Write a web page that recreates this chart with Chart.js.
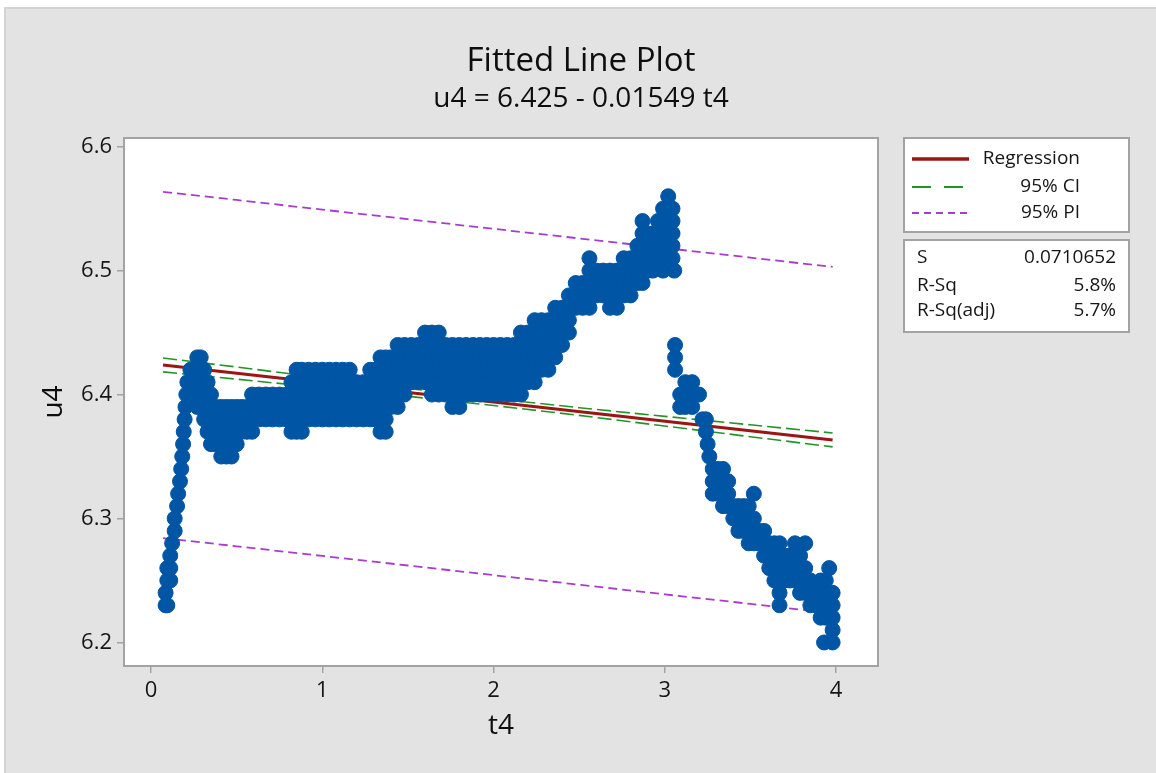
<!DOCTYPE html>
<html>
<head>
<meta charset="utf-8">
<title>Fitted Line Plot</title>
<script src="https://cdn.jsdelivr.net/npm/chart.js@4.4.1/dist/chart.umd.min.js"></script>
<style>
  html, body { margin: 0; padding: 0; background: #ffffff; }
  canvas { display: block; }
</style>
</head>
<body>
<canvas id="plot" width="1156" height="773"></canvas>
<script>
const FONT = '"Open Sans", "Noto Sans", "DejaVu Sans", sans-serif';

// Fitted equation (as printed in the subtitle)
const intercept = 6.425;
const slope = -0.01549;

// Summary statistics box
const statLabels = ['S', 'R-Sq', 'R-Sq(adj)'];
const statValues = ['0.0710652', '5.8%', '5.7%'];

// Legend entries
const legendLabels = ['Regression', '95% CI', '95% PI'];

// Axis ticks
const xTicks = [0, 1, 2, 3, 4];
const yTicks = [6.2, 6.3, 6.4, 6.5, 6.6];

// Confidence / prediction band vertices
const bandT   = [0.07, 0.5, 1.0, 1.5, 2.0, 2.5, 3.0, 3.5, 3.98];
const ciUpper = [6.4295, 6.4222, 6.4135, 6.4050, 6.3968, 6.3894, 6.3824, 6.3756, 6.3690];
const ciLower = [6.4183, 6.4124, 6.4055, 6.3986, 6.3912, 6.3832, 6.3746, 6.3660, 6.3578];
const piUpper = [6.5636, 6.5570, 6.5492, 6.5415, 6.5337, 6.5260, 6.5182, 6.5105, 6.5030];
const piLower = [6.2842, 6.2776, 6.2698, 6.2621, 6.2543, 6.2466, 6.2388, 6.2311, 6.2236];

// Observations: t4 value of each group and the u4 readings recorded at it
const t4 = [
  0.085, 0.095, 0.112, 0.123, 0.138, 0.152, 0.158, 0.169, 0.176, 0.182,
  0.187, 0.191, 0.196, 0.201, 0.206, 0.212, 0.23, 0.25, 0.27, 0.29,
  0.31, 0.33, 0.35, 0.38, 0.41, 0.44, 0.47, 0.50, 0.53, 0.56,
  0.59, 0.63, 0.67, 0.71, 0.75, 0.79, 0.82, 0.85, 0.88, 0.92,
  0.96, 1.00, 1.04, 1.08, 1.12, 1.16, 1.20, 1.24, 1.28, 1.31,
  1.34, 1.37, 1.40, 1.44, 1.48, 1.52, 1.56, 1.60, 1.64, 1.68,
  1.72, 1.76, 1.80, 1.84, 1.88, 1.92, 1.96, 2.00, 2.04, 2.08,
  2.12, 2.16, 2.20, 2.24, 2.28, 2.32, 2.36, 2.40, 2.44, 2.48,
  2.52, 2.56, 2.60, 2.64, 2.68, 2.72, 2.76, 2.80, 2.84, 2.87,
  2.90, 2.93, 2.96, 2.99, 3.02, 3.045, 3.055,
  3.06, 3.09, 3.12, 3.16, 3.20, 3.22, 3.24, 3.25, 3.26, 3.28,
  3.31, 3.34, 3.37, 3.40, 3.43, 3.46, 3.49, 3.52, 3.55, 3.58,
  3.61, 3.64, 3.67, 3.70, 3.73, 3.76, 3.79, 3.82, 3.85, 3.88,
  3.91, 3.93, 3.94, 3.96, 3.98
];
const u4 = [
  [6.23, 6.24], [6.23, 6.25, 6.26], [6.25, 6.26, 6.27], [6.28], [6.29, 6.30],
  [6.31], [6.32], [6.33], [6.34], [6.35],
  [6.36], [6.37], [6.38], [6.39], [6.40],
  [6.41], [6.41, 6.42], [6.40, 6.41, 6.42], [6.39, 6.40, 6.41, 6.42, 6.43], [6.39, 6.40, 6.41, 6.42, 6.43],
  [6.38, 6.39, 6.40, 6.41, 6.42], [6.37, 6.38, 6.39, 6.40, 6.41], [6.36, 6.37, 6.38, 6.39, 6.40], [6.36, 6.37, 6.38, 6.39], [6.35, 6.36, 6.37, 6.38, 6.39],
  [6.35, 6.36, 6.37, 6.38, 6.39], [6.35, 6.36, 6.37, 6.38, 6.39], [6.36, 6.37, 6.38, 6.39], [6.37, 6.38, 6.39], [6.37, 6.38, 6.39],
  [6.37, 6.38, 6.39, 6.40], [6.38, 6.39, 6.40], [6.38, 6.39, 6.40], [6.38, 6.39, 6.40], [6.38, 6.39, 6.40],
  [6.38, 6.39, 6.40], [6.37, 6.38, 6.39, 6.40, 6.41], [6.37, 6.38, 6.39, 6.40, 6.41, 6.42], [6.37, 6.38, 6.39, 6.40, 6.41, 6.42], [6.38, 6.39, 6.40, 6.41, 6.42],
  [6.38, 6.39, 6.40, 6.41, 6.42], [6.38, 6.39, 6.40, 6.41, 6.42], [6.38, 6.39, 6.40, 6.41, 6.42], [6.38, 6.39, 6.40, 6.41, 6.42], [6.38, 6.39, 6.40, 6.41, 6.42],
  [6.38, 6.39, 6.40, 6.41, 6.42], [6.38, 6.39, 6.40, 6.41], [6.38, 6.39, 6.40, 6.41], [6.38, 6.39, 6.40, 6.41, 6.42], [6.38, 6.39, 6.40, 6.41, 6.42],
  [6.37, 6.38, 6.39, 6.40, 6.41, 6.42, 6.43], [6.37, 6.38, 6.39, 6.40, 6.41, 6.42, 6.43], [6.39, 6.40, 6.41, 6.42, 6.43], [6.39, 6.40, 6.41, 6.42, 6.43, 6.44], [6.40, 6.41, 6.42, 6.43, 6.44],
  [6.41, 6.42, 6.43, 6.44], [6.41, 6.42, 6.43, 6.44], [6.41, 6.42, 6.43, 6.44, 6.45], [6.40, 6.41, 6.42, 6.43, 6.44, 6.45], [6.40, 6.41, 6.42, 6.43, 6.44, 6.45],
  [6.40, 6.41, 6.42, 6.43, 6.44], [6.39, 6.40, 6.41, 6.42, 6.43, 6.44], [6.39, 6.40, 6.41, 6.42, 6.43, 6.44], [6.40, 6.41, 6.42, 6.43, 6.44], [6.40, 6.41, 6.42, 6.43, 6.44],
  [6.40, 6.41, 6.42, 6.43, 6.44], [6.40, 6.41, 6.42, 6.43, 6.44], [6.40, 6.41, 6.42, 6.43, 6.44], [6.40, 6.41, 6.42, 6.43, 6.44], [6.40, 6.41, 6.42, 6.43, 6.44],
  [6.40, 6.41, 6.42, 6.43, 6.44], [6.40, 6.41, 6.42, 6.43, 6.44, 6.45], [6.41, 6.42, 6.43, 6.44, 6.45], [6.41, 6.42, 6.43, 6.44, 6.45, 6.46], [6.42, 6.43, 6.44, 6.45, 6.46],
  [6.42, 6.43, 6.44, 6.45, 6.46], [6.43, 6.44, 6.45, 6.46, 6.47], [6.44, 6.45, 6.46, 6.47], [6.45, 6.46, 6.47, 6.48], [6.47, 6.48, 6.49],
  [6.47, 6.48, 6.49], [6.47, 6.48, 6.49, 6.50, 6.51], [6.48, 6.49, 6.50], [6.48, 6.49, 6.50], [6.47, 6.48, 6.49, 6.50],
  [6.47, 6.48, 6.49, 6.50], [6.48, 6.49, 6.50, 6.51], [6.48, 6.49, 6.50, 6.51], [6.49, 6.50, 6.51, 6.52], [6.49, 6.50, 6.51, 6.52, 6.53, 6.54],
  [6.50, 6.51, 6.52, 6.53], [6.50, 6.51, 6.52, 6.53], [6.51, 6.52, 6.53, 6.54], [6.50, 6.51, 6.52, 6.53, 6.54, 6.55], [6.52, 6.53, 6.54, 6.55, 6.56],
  [6.51, 6.52, 6.53, 6.54, 6.55], [6.50],
  [6.42, 6.43, 6.44], [6.39, 6.40], [6.39, 6.40, 6.41], [6.39, 6.40, 6.41], [6.40],
  [6.38], [6.37, 6.38], [6.36], [6.35], [6.32, 6.33, 6.34],
  [6.32, 6.33, 6.34], [6.31, 6.32, 6.33, 6.34], [6.31, 6.32, 6.33], [6.30, 6.31], [6.29, 6.30, 6.31],
  [6.29, 6.30, 6.31], [6.28, 6.29, 6.30, 6.31], [6.28, 6.29, 6.30, 6.32], [6.28, 6.29], [6.27, 6.28, 6.29],
  [6.26, 6.27, 6.28], [6.25, 6.26, 6.27, 6.28], [6.23, 6.24, 6.25, 6.26, 6.27, 6.28], [6.25, 6.26, 6.27], [6.25, 6.26, 6.27],
  [6.25, 6.26, 6.27, 6.28], [6.24, 6.25, 6.26, 6.27], [6.24, 6.25, 6.26, 6.28], [6.23, 6.24, 6.25], [6.23, 6.24],
  [6.22, 6.23, 6.24, 6.25], [6.20], [6.22, 6.23, 6.24, 6.25], [6.23, 6.24, 6.26], [6.20, 6.21, 6.22, 6.23, 6.24]
];

// Colours
const BLUE = '#0055a4';
const RED = '#9c1515';
const GREEN = '#23942a';
const PURPLE = '#a93ccf';
const FRAME = '#a3a3a3';
const TEXT = '#161616';

const observations = [];
t4.forEach((t, i) => u4[i].forEach(u => observations.push({ x: t, y: u })));

const fitLine = [bandT[0], bandT[bandT.length - 1]].map(t => ({ x: t, y: intercept + slope * t }));
const toXY = (ys) => bandT.map((t, i) => ({ x: t, y: ys[i] }));

// Grey page, white plot region, framed plot border
const backdrop = {
  id: 'backdrop',
  beforeDraw(chart) {
    const { ctx, chartArea: a, width, height } = chart;
    ctx.save();
    ctx.fillStyle = '#ffffff';
    ctx.fillRect(0, 0, width, height);
    ctx.fillStyle = '#d3d3d3';
    ctx.fillRect(4, 7, width - 4, height - 7);
    ctx.fillStyle = '#e3e3e3';
    ctx.fillRect(6, 9, width - 6, height - 9);
    ctx.fillStyle = '#ffffff';
    ctx.fillRect(a.left, a.top, a.right - a.left, a.bottom - a.top);
    ctx.restore();
  },
  afterDatasetsDraw(chart) {
    const { ctx, chartArea: a } = chart;
    ctx.save();
    ctx.strokeStyle = FRAME;
    ctx.lineWidth = 2;
    ctx.strokeRect(a.left, a.top, a.right - a.left, a.bottom - a.top);
    ctx.restore();
  }
};

// Titles, axis names, legend and statistics boxes
const annotations = {
  id: 'annotations',
  afterDraw(chart) {
    const { ctx, chartArea: a } = chart;
    ctx.save();
    ctx.fillStyle = '#0e0e0e';
    ctx.textAlign = 'center';
    ctx.textBaseline = 'alphabetic';
    ctx.font = '33px ' + FONT;
    ctx.fillText('Fitted Line Plot', 581, 71);
    ctx.font = '28px ' + FONT;
    ctx.fillText('u4 = ' + intercept.toFixed(3) + ' - ' + Math.abs(slope).toFixed(5) + ' t4', 581, 107);

    // axis names
    ctx.font = '28px ' + FONT;
    ctx.textBaseline = 'middle';
    ctx.fillText('t4', (a.left + a.right) / 2, 726);
    ctx.save();
    ctx.translate(54, (a.top + a.bottom) / 2);
    ctx.rotate(-Math.PI / 2);
    ctx.fillText('u4', 0, 0);
    ctx.restore();

    // legend box
    const bx = 904, bw = 225;
    ctx.fillStyle = '#ffffff';
    ctx.fillRect(bx, 138, bw, 94);
    ctx.fillRect(bx, 240, bw, 92);
    ctx.strokeStyle = FRAME;
    ctx.lineWidth = 2;
    ctx.strokeRect(bx, 138, bw, 94);
    ctx.strokeRect(bx, 240, bw, 92);

    const rows = [159, 187, 213];
    const styles = [
      { color: RED, width: 3.5, dash: [] },
      { color: GREEN, width: 1.8, dash: [19, 13] },
      { color: PURPLE, width: 1.8, dash: [7, 5] }
    ];
    rows.forEach((y, i) => {
      ctx.beginPath();
      ctx.strokeStyle = styles[i].color;
      ctx.lineWidth = styles[i].width;
      ctx.setLineDash(styles[i].dash);
      ctx.moveTo(912, y);
      ctx.lineTo(969, y);
      ctx.stroke();
    });
    ctx.setLineDash([]);
    ctx.fillStyle = TEXT;
    ctx.font = '19px ' + FONT;
    ctx.textAlign = 'right';
    ctx.textBaseline = 'middle';
    legendLabels.forEach((label, i) => ctx.fillText(label, 1080, rows[i]));

    const statRows = [258, 286, 311];
    statLabels.forEach((label, i) => {
      ctx.textAlign = 'left';
      ctx.fillText(label, 917, statRows[i]);
      ctx.textAlign = 'right';
      ctx.fillText(statValues[i], 1116, statRows[i]);
    });
    ctx.restore();
  }
};

const axisCommon = {
  type: 'linear',
  border: { display: false },
  grid: {
    drawOnChartArea: false,
    drawTicks: true,
    tickLength: 7,
    color: FRAME,
    lineWidth: 1.5
  },
  ticks: {
    color: TEXT,
    font: { family: FONT, size: 22 },
    autoSkip: false,
    maxRotation: 0
  }
};

new Chart(document.getElementById('plot'), {
  type: 'scatter',
  data: {
    datasets: [
      {
        label: 'u4',
        data: observations,
        order: 0,
        showLine: false,
        pointRadius: 7.5,
        pointBorderWidth: 1,
        pointBackgroundColor: BLUE,
        pointBorderColor: BLUE,
        pointHoverRadius: 7.5
      },
      {
        label: legendLabels[0],
        data: fitLine,
        order: 1,
        showLine: true,
        pointRadius: 0,
        borderColor: RED,
        borderWidth: 3
      },
      {
        label: '95% CI upper',
        data: toXY(ciUpper),
        order: 2,
        showLine: true,
        pointRadius: 0,
        borderColor: GREEN,
        borderWidth: 1.6,
        borderDash: [14, 5]
      },
      {
        label: '95% CI lower',
        data: toXY(ciLower),
        order: 2,
        showLine: true,
        pointRadius: 0,
        borderColor: GREEN,
        borderWidth: 1.6,
        borderDash: [14, 5]
      },
      {
        label: '95% PI upper',
        data: toXY(piUpper),
        order: 3,
        showLine: true,
        pointRadius: 0,
        borderColor: PURPLE,
        borderWidth: 1.8,
        borderDash: [9, 5]
      },
      {
        label: '95% PI lower',
        data: toXY(piLower),
        order: 3,
        showLine: true,
        pointRadius: 0,
        borderColor: PURPLE,
        borderWidth: 1.8,
        borderDash: [9, 5]
      }
    ]
  },
  options: {
    responsive: false,
    animation: false,
    devicePixelRatio: 1,
    layout: { padding: { top: 138, right: 278, bottom: 0, left: 0 } },
    plugins: {
      legend: { display: false },
      tooltip: { enabled: false },
      title: { display: false }
    },
    scales: {
      x: Object.assign({}, axisCommon, {
        min: -0.158,
        max: 4.245,
        afterBuildTicks: (s) => { s.ticks = xTicks.map(v => ({ value: v })); },
        afterFit: (s) => { s.height = 107; },
        ticks: Object.assign({}, axisCommon.ticks, { padding: 5, callback: (v) => String(v) })
      }),
      y: Object.assign({}, axisCommon, {
        min: 6.181,
        max: 6.607,
        afterBuildTicks: (s) => { s.ticks = yTicks.map(v => ({ value: v })); },
        afterFit: (s) => { s.width = 124; },
        ticks: Object.assign({}, axisCommon.ticks, { padding: 5, callback: (v) => Number(v).toFixed(1) })
      })
    }
  },
  plugins: [backdrop, annotations]
});
</script>
</body>
</html>
